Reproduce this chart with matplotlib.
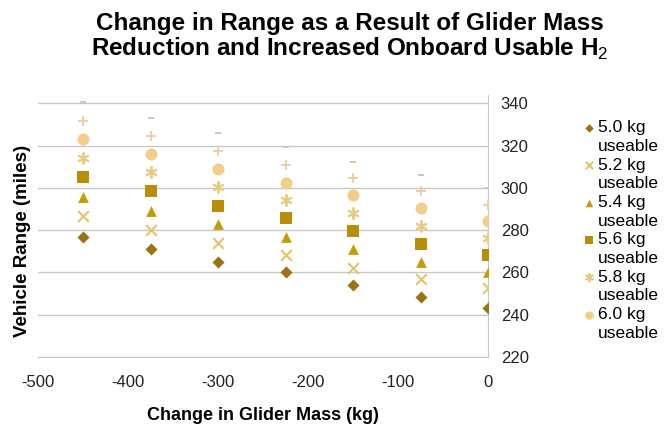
import matplotlib.pyplot as plt
import numpy as np

plt.rcParams['font.family'] = ['Liberation Sans', 'DejaVu Sans']
plt.rcParams['mathtext.fontset'] = 'custom'
plt.rcParams['mathtext.rm'] = 'Liberation Sans'
plt.rcParams['mathtext.bf'] = 'Liberation Sans:bold'
plt.rcParams['axes.unicode_minus'] = False

# datos
mass_change = [-450, -375, -300, -225, -150, -75, 0]
r_50 = [277, 271, 265, 260, 254, 248.5, 243]
r_52 = [286.5, 280, 274, 268.5, 262, 257, 252.5]
r_54 = [295.5, 289, 283, 277, 271, 265, 260]
r_56 = [305, 298.5, 291.5, 286, 279.5, 273.5, 268.5]
r_58 = [314, 307.5, 300.5, 294.5, 288, 282, 276.5]
r_60 = [323, 316, 309, 302.5, 296.5, 290.5, 284.5]
r_62 = [331.5, 324.5, 317.5, 311, 304.5, 298.5, 292]
r_64 = [340.5, 333, 326, 319.5, 312.5, 306, 300]

labels = ['5.0 kg\nuseable', '5.2 kg\nuseable', '5.4 kg\nuseable',
          '5.6 kg\nuseable', '5.8 kg\nuseable', '6.0 kg\nuseable',
          '6.2 kg\nuseable', '6.4 kg\nuseable']
series = [r_50, r_52, r_54, r_56, r_58, r_60, r_62, r_64]
markers = ['D', 'x', '^', 's', (6, 2, 0), 'o', '+', '_']
sizes = [38, 60, 60, 70, 60, 75, 60, 25]
colors = ['#9A7410', '#E2C262', '#C49C06', '#B88E08', '#E6CC80', '#F2CE8A',
          '#EBCFA8', '#DCC3AC']

fig = plt.figure(figsize=(6.67, 4.24), dpi=100)
ax = fig.add_axes([0.057, 0.158, 0.675, 0.618])

handles = []
for ys, lab, m, s, c in zip(series, labels, markers, sizes, colors):
    thin = m in ('x', '+', '_', (6, 2, 0))
    h = ax.scatter(mass_change, ys, marker=m, s=s, color=c, label=lab,
                   linewidths=1.4 if thin else 0, zorder=3)
    handles.append(h)

ax.set_xlim(-500, 0)
ax.set_ylim(220, 344)
ax.set_xticks(np.arange(-500, 1, 100))
ax.set_yticks(np.arange(220, 341, 20))
ax.yaxis.tick_right()
ax.grid(axis='y', color='#C8C8C8', linewidth=1)
ax.set_axisbelow(True)
for sp in ['top', 'left']:
    ax.spines[sp].set_visible(False)
for sp in ['right', 'bottom']:
    ax.spines[sp].set_color('#C8C8C8')
ax.tick_params(length=0, labelsize=12, colors='#222222', pad=9)
ax.tick_params(axis='x', pad=13)

ax.set_xlabel('Change in Glider Mass (kg)', fontsize=13, fontweight='bold', labelpad=12)
fig.text(0.034, 0.432, 'Vehicle Range (miles)', rotation=90, fontsize=13.5,
         fontweight='bold', ha='center', va='center')

fig.text(0.525, 0.913, 'Change in Range as a Result of Glider Mass\n'
         'Reduction and Increased Onboard Usable H$_2$',
         fontsize=17.5, fontweight='bold', ha='center', va='center',
         linespacing=1.05)

leg = fig.legend(handles=handles[:6], loc='upper left',
                 bbox_to_anchor=(0.863, 0.737), frameon=False, fontsize=12.5,
                 handlelength=0.5, handletextpad=0.3, labelspacing=0.22,
                 borderpad=0, markerscale=0.7)
for t in leg.get_texts():
    t.set_linespacing(1.3)
# marcador alineado con la primera linea del texto
for col in leg._legend_handle_box.get_children():
    for row in col.get_children():
        row.align = 'top'

fig.savefig('out.png', dpi=100)
